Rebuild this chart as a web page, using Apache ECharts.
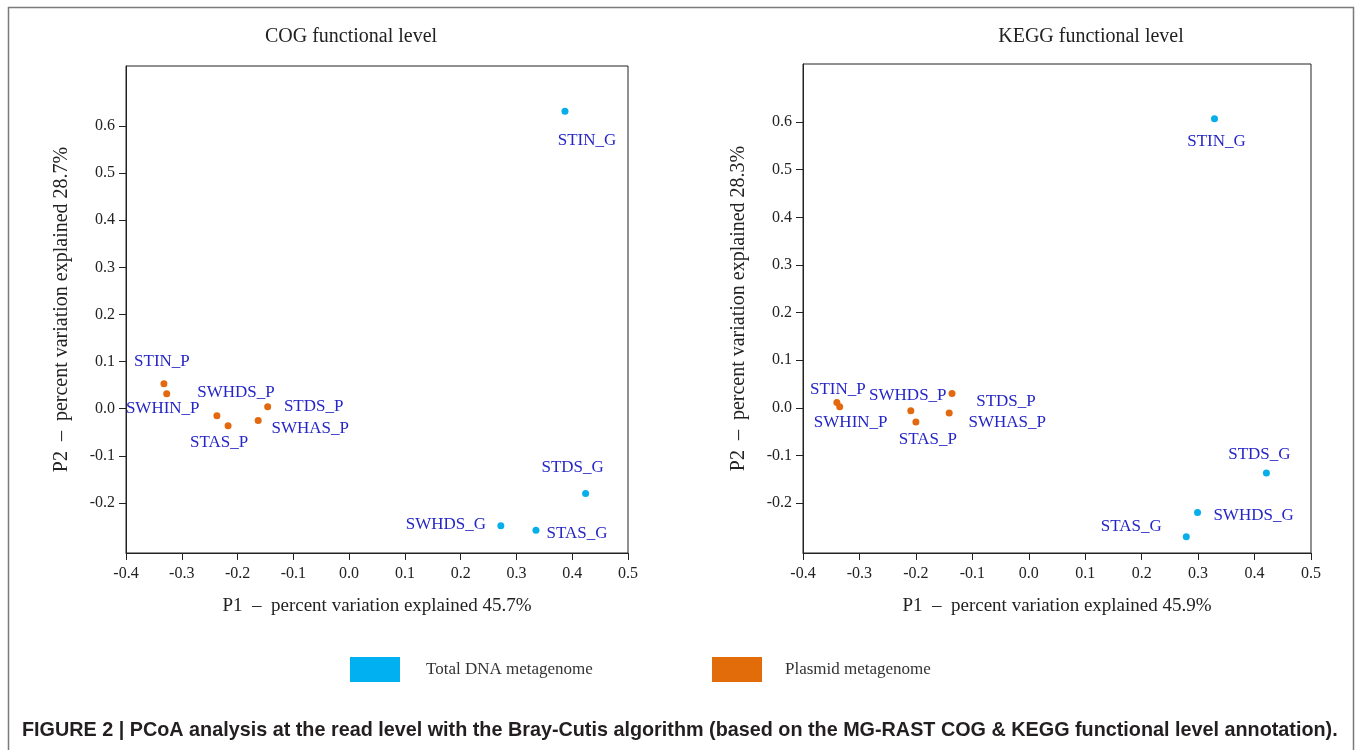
<!DOCTYPE html>
<html><head><meta charset="utf-8">
<script src="https://cdn.jsdelivr.net/npm/echarts@6/dist/echarts.min.js"></script>
<style>html,body{margin:0;padding:0;background:#fff}#c{width:1360px;height:750px}</style>
</head><body><div id="c"></div><script>
// ---- data ----
const panelTitles = ['COG functional level', 'KEGG functional level'];
const xAxisNames = ['P1  \u2013  percent variation explained 45.7%', 'P1  \u2013  percent variation explained 45.9%'];
const yAxisNames = ['P2  \u2013  percent variation explained 28.7%', 'P2  \u2013  percent variation explained 28.3%'];
const xTicks = [-0.4, -0.3, -0.2, -0.1, 0.0, 0.1, 0.2, 0.3, 0.4, 0.5];
const yTicks = [-0.2, -0.1, 0.0, 0.1, 0.2, 0.3, 0.4, 0.5, 0.6];
const seriesNames = ['Total DNA metagenome', 'Plasmid metagenome'];
const totalSamples = ['STIN_G', 'STDS_G', 'SWHDS_G', 'STAS_G'];
const plasmidSamples = ['STIN_P', 'SWHIN_P', 'SWHDS_P', 'STAS_P', 'STDS_P', 'SWHAS_P'];
const cogTotalX = [0.387, 0.424, 0.272, 0.335];
const cogTotalY = [0.631, -0.180, -0.248, -0.258];
const cogPlasmidX = [-0.332, -0.327, -0.237, -0.217, -0.146, -0.163];
const cogPlasmidY = [0.053, 0.032, -0.015, -0.036, 0.004, -0.025];
const keggTotalX = [0.329, 0.421, 0.299, 0.279];
const keggTotalY = [0.607, -0.137, -0.220, -0.271];
const keggPlasmidX = [-0.340, -0.335, -0.209, -0.200, -0.136, -0.141];
const keggPlasmidY = [0.011, 0.002, -0.006, -0.030, 0.030, -0.011];
const caption = 'FIGURE 2 | PCoA analysis at the read level with the Bray-Cutis algorithm (based on the MG-RAST COG & KEGG functional level annotation).';

// ---- styling (label placement relative to each point) ----
const labelOffsets = [
  {STIN_G:[22,29], STDS_G:[-13,-26], SWHDS_G:[-55,-1], STAS_G:[41,3],
   STIN_P:[-2,-22], SWHIN_P:[-4,15], SWHDS_P:[19,-23], STAS_P:[-9,17], STDS_P:[46,0], SWHAS_P:[52,8]},
  {STIN_G:[2,23], STDS_G:[-7,-18], SWHDS_G:[56,3], STAS_G:[-55,-10],
   STIN_P:[1,-13], SWHIN_P:[11,16], SWHDS_P:[-3,-15], STAS_P:[12,17], STDS_P:[54,8], SWHAS_P:[58,10]}
];
const colors = ['#08aeea', '#e2690f'];
const legendColors = ['#00b0f0', '#e36c0a'];
const serif = '"Liberation Serif", "DejaVu Serif", serif';
const labelColor = '#2626c6';

const grids = [
  {left: 126, top: 66, width: 502, height: 487, show: true, borderColor: '#222', borderWidth: 1, backgroundColor: 'transparent'},
  {left: 803, top: 64, width: 508, height: 489, show: true, borderColor: '#222', borderWidth: 1, backgroundColor: 'transparent'}
];
const yRanges = [[-0.306, 0.727], [-0.305, 0.722]];

function pts(names, xs, ys, panel) {
  return names.map((n, i) => ({
    name: n,
    value: [xs[i], ys[i]],
    label: {offset: labelOffsets[panel][n]}
  }));
}
const panelData = [
  [pts(totalSamples, cogTotalX, cogTotalY, 0), pts(plasmidSamples, cogPlasmidX, cogPlasmidY, 0)],
  [pts(totalSamples, keggTotalX, keggTotalY, 1), pts(plasmidSamples, keggPlasmidX, keggPlasmidY, 1)]
];

const xAxes = [], yAxes = [], series = [];
[0, 1].forEach(p => {
  xAxes.push({
    type: 'value', gridIndex: p, min: -0.4, max: 0.5, interval: 0.1,
    name: xAxisNames[p], nameLocation: 'middle', nameGap: 44,
    nameTextStyle: {fontFamily: serif, fontSize: 19, color: '#222'},
    axisLine: {onZero: false, lineStyle: {color: '#222', width: 1}},
    axisTick: {show: true, length: 7, lineStyle: {color: '#222'}},
    axisLabel: {fontFamily: serif, fontSize: 16, color: '#222', margin: 13,
      formatter: v => Number(v).toFixed(1), customValues: xTicks},
    splitLine: {show: false}
  });
  yAxes.push({
    type: 'value', gridIndex: p, min: yRanges[p][0], max: yRanges[p][1],
    name: yAxisNames[p], nameLocation: 'middle', nameGap: 54, nameRotate: 90,
    nameTextStyle: {fontFamily: serif, fontSize: 20, color: '#222'},
    axisLine: {onZero: false, lineStyle: {color: '#222', width: 1}},
    axisTick: {show: true, length: 7, lineStyle: {color: '#222'}, customValues: yTicks},
    axisLabel: {fontFamily: serif, fontSize: 16, color: '#222', margin: 11,
      formatter: v => Number(v).toFixed(1), customValues: yTicks},
    splitLine: {show: false}
  });
  [0, 1].forEach(s => {
    series.push({
      type: 'scatter', name: seriesNames[s], xAxisIndex: p, yAxisIndex: p,
      symbol: 'circle', symbolSize: 7,
      itemStyle: {color: colors[s], opacity: 1},
      label: {show: true, position: 'inside', formatter: '{b}',
        fontFamily: serif, fontSize: 17, color: labelColor},
      emphasis: {disabled: true},
      data: panelData[p][s]
    });
  });
});

const chart = echarts.init(document.getElementById('c'), null, {renderer: 'canvas'});
chart.setOption({
  animation: false,
  backgroundColor: '#ffffff',
  grid: grids,
  xAxis: xAxes,
  yAxis: yAxes,
  series: series,
  legend: [
    {data: [seriesNames[0]], left: 350, top: 657, padding: 0, icon: 'rect', itemWidth: 50, itemHeight: 25,
     selectedMode: false, itemStyle: {color: legendColors[0], opacity: 1},
     textStyle: {fontFamily: serif, fontSize: 17, color: '#333', padding: [0, 0, 0, 21]}},
    {data: [seriesNames[1]], left: 712, top: 657, padding: 0, icon: 'rect', itemWidth: 50, itemHeight: 25,
     selectedMode: false, itemStyle: {color: legendColors[1], opacity: 1},
     textStyle: {fontFamily: serif, fontSize: 17, color: '#333', padding: [0, 0, 0, 18]}}
  ],
  graphic: [
    {type: 'rect', silent: true, shape: {x: 8.5, y: 7.5, width: 1345, height: 800},
     style: {fill: 'none', stroke: '#7a7a7a', lineWidth: 1.5}},
    {type: 'text', x: 351, y: 37, silent: true,
     style: {text: panelTitles[0], font: '20px ' + serif, fill: '#222', textAlign: 'center', textVerticalAlign: 'middle'}},
    {type: 'text', x: 1091, y: 37, silent: true,
     style: {text: panelTitles[1], font: '20px ' + serif, fill: '#222', textAlign: 'center', textVerticalAlign: 'middle'}},
    {type: 'text', x: 22, y: 731, silent: true,
     style: {text: caption, font: 'bold 19.8px "Liberation Sans", Arial, sans-serif', fill: '#231f20', textAlign: 'left', textVerticalAlign: 'middle'}}
  ]
});
</script></body></html>
